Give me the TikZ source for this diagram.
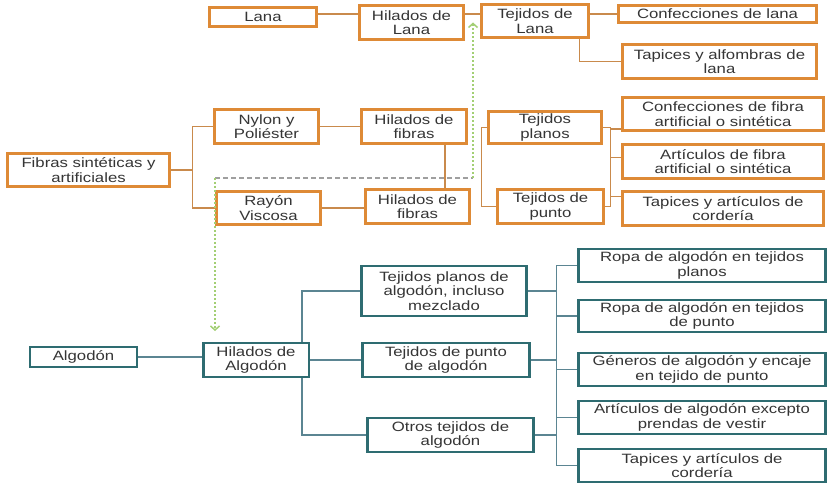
\documentclass[tikz,border=0pt]{standalone}
\usepackage{fontspec}
\setmainfont{Liberation Sans}[FakeStretch=1.24]
\usetikzlibrary{arrows.meta}
\definecolor{naranja}{HTML}{DE8A36}
\definecolor{naranjalinea}{HTML}{C98A4C}
\definecolor{verdeazul}{HTML}{2E6C71}
\definecolor{tealinea}{HTML}{5B8592}
\definecolor{verdeclaro}{HTML}{A3CF74}
\definecolor{textogris}{HTML}{353535}
\tikzset{
  caja/.style={draw, line width=2.6bp, inner sep=0pt, align=center, fill=white,
    text=textogris, font=\fontsize{13.5bp}{14.5bp}\selectfont},
  cajan/.style={caja, draw=naranja, line width=2.9bp},
  cajav/.style={caja, draw=verdeazul},
  linean/.style={draw=naranjalinea, line width=1.2bp},
  lineav/.style={draw=tealinea, line width=1.2bp},
  punteado/.style={draw=verdeclaro, line width=1.5bp, dash pattern=on 2bp off 2bp,
    -{Straight Barb[length=4bp,width=9bp]}},
  guion/.style={draw=gray!75, line width=1.1bp, dash pattern=on 5bp off 3bp}
}
\begin{document}
\begin{tikzpicture}[x=1bp,y=-1bp]
\useasboundingbox[fill=white] (0,0) rectangle (828,484);

% lana
\node[cajan, minimum width=107, minimum height=19] (lana) at (263,17) {Lana};
\node[cajan, minimum width=104, minimum height=34] (hlana) at (411.5,22.5) {Hilados de\\Lana};
\node[cajan, minimum width=107, minimum height=33] (tlana) at (535,21) {Tejidos de\\Lana};
\node[cajan, minimum width=198, minimum height=17] (conflana) at (717.5,14) {Confecciones de lana};
\node[cajan, minimum width=194, minimum height=34] (tapflana) at (719.5,61.5) {Tapices y alfombras de\\lana};

\draw[linean] (lana.east |- conflana.west) -- (hlana.west |- conflana.west);
\draw[linean] (hlana.east |- conflana.west) -- (tlana.west |- conflana.west);
\draw[linean] (tlana.east |- conflana.west) -- (conflana.west);
\draw[linean] ([xshift=-10bp]tlana.south east) |- (tapflana.west);

%-------------------------------------
% fibras sinteticas
\node[cajan, minimum width=162, minimum height=33] (fibras) at (88.5,170) {Fibras sintéticas y\\artificiales};
\node[cajan, minimum width=104, minimum height=34] (nylon) at (266.5,126.5) {Nylon y\\Poliéster};
\node[cajan, minimum width=104, minimum height=33] (rayon) at (268.5,208) {Rayón\\Viscosa};
\node[cajan, minimum width=105, minimum height=34] (hfibA) at (414,126.5) {Hilados de\\fibras};
\node[cajan, minimum width=104, minimum height=34] (hfibB) at (417.5,206.5) {Hilados de\\fibras};
\node[cajan, minimum width=113, minimum height=32] (tplanos) at (545,127.5) {Tejidos\\planos};
\node[cajan, minimum width=106, minimum height=34] (tpunto) at (550.5,206.5) {Tejidos de\\punto};
\node[cajan, minimum width=201, minimum height=33] (conffib) at (723,114) {Confecciones de fibra\\artificial o sintética};
\node[cajan, minimum width=201, minimum height=34] (artfib) at (723,161.5) {Artículos de fibra\\artificial o sintética};
\node[cajan, minimum width=201, minimum height=34] (tapfib) at (723,208.5) {Tapices y artículos de\\cordería};

\coordinate (bfib) at ([xshift=22bp]fibras.east);
\draw[linean] (fibras.east) -- (bfib);
\draw[linean] (nylon.west) -| (bfib) |- (rayon.west);
\draw[linean] (nylon.east) -- (hfibA.west);
\draw[linean] (rayon.east) -- (rayon.east -| hfibB.west);
\draw[linean] ([xshift=31bp]hfibA.south) -- ([xshift=31bp]hfibA.south |- hfibB.north);
\draw[linean] (tplanos.west) -- ++(-6,0) |- (tpunto.west);
\draw[linean] (tplanos.east) -- ++(8,0) |- (tpunto.east);
\draw[linean] ([yshift=-15bp]conffib.west) -- ++(-10,0);
\draw[linean] ([yshift=4bp]artfib.west) -- ++(-10,0);
\draw[linean] ([yshift=12bp]tapfib.west) -- ++(-10,0);

% enlaces punteados
\coordinate (gizq) at (215,178);
\coordinate (gder) at (473,178);
\draw[guion] (gizq) -- (gder);
\draw[punteado] (gder) -- (gder |- hlana.east);
\draw[punteado] (gizq) -- (215,331);

%-------------------------------------
% algodon
\node[cajav, minimum width=107, minimum height=20] (alg) at (83.5,357) {Algodón};
\node[cajav, minimum width=106, minimum height=34] (halg) at (256,360) {Hilados de\\Algodón};
\node[cajav, minimum width=166, minimum height=50] (tpalg) at (444,291) {Tejidos planos de\\algodón, incluso\\mezclado};
\node[cajav, minimum width=168, minimum height=34] (tpuntoalg) at (446,360) {Tejidos de punto\\de algodón};
\node[cajav, minimum width=167, minimum height=34] (otros) at (450.5,435) {Otros tejidos de\\algodón};
\node[cajav, minimum width=248, minimum height=33] (ropaA) at (702,265.5) {Ropa de algodón en tejidos\\planos};
\node[cajav, minimum width=248, minimum height=32] (ropaB) at (702,316) {Ropa de algodón en tejidos\\de punto};
\node[cajav, minimum width=248, minimum height=33] (generos) at (702,369.5) {Géneros de algodón y encaje\\en tejido de punto};
\node[cajav, minimum width=248, minimum height=33] (artalg) at (702,417.5) {Artículos de algodón excepto\\prendas de vestir};
\node[cajav, minimum width=248, minimum height=33] (tapalg) at (702,465.5) {Tapices y artículos de\\cordería};

\draw[lineav] (alg.east) -- (alg.east -| halg.west);
\draw[lineav] ([xshift=46bp]halg.north) |- (tpalg.west);
\draw[lineav] (halg.east) -- (tpuntoalg.west);
\draw[lineav] ([xshift=46bp]halg.south) |- (otros.west);
\coordinate (balg) at ([xshift=-21bp]ropaA.west);
\draw[lineav] (ropaA.west) -- (balg) |- (tapalg.west);
\draw[lineav] (ropaB.west) -- (ropaB.west -| balg);
\draw[lineav] (generos.west) -- (generos.west -| balg);
\draw[lineav] (artalg.west) -- (artalg.west -| balg);
\draw[lineav] (tpalg.east) -- (tpalg.east -| balg);
\draw[lineav] (tpuntoalg.east) -- (tpuntoalg.east -| balg);
\draw[lineav] (otros.east) -- (otros.east -| balg);
\end{tikzpicture}
\end{document}
